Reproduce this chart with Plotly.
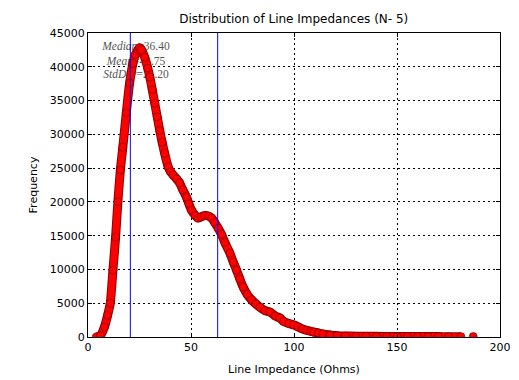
import plotly.graph_objects as go

# Data
impedance = [4, 6, 8, 9.5, 10.8, 12.1, 13.4, 14.5, 15.7, 16.9, 18.6, 20.2, 21.8, 23, 24.2, 25, 26, 27.5, 29, 30,
             31.2, 32.4, 33.6, 34.8, 36, 37.2, 38.9, 40, 41.3, 43, 44.5, 46, 47.8, 49, 50.2, 52, 53.4, 55, 56.7, 58.5,
             60, 61.6, 63.2, 64.8, 66.4, 68.9, 70.5, 72.1, 73.7, 75.3, 77.3, 79.4, 81.5, 83.5, 86, 88.3, 91, 93.2, 95, 97.5,
             99.7, 102, 104, 106, 108, 109.4, 111.8, 114, 117.5, 121, 125, 130, 135, 140, 145, 150, 155, 160, 165, 170,
             175, 181]
frequency = [0, 200, 1500, 3200, 5000, 9900, 14800, 20000, 24700, 28100, 33200, 37600, 40500, 41800, 42500, 42800, 42500, 41400, 39800, 38500,
             36600, 34600, 32600, 30600, 28800, 27200, 25200, 24500, 24000, 23400, 22800, 21800, 20700, 19700, 18800, 18000, 17600, 17800, 18000, 17900,
             17600, 16900, 16100, 15200, 14000, 12400, 11100, 9900, 8600, 7400, 6300, 5500, 4900, 4400, 3900, 3700, 3100, 2800, 2300, 2000,
             1800, 1500, 1200, 1000, 850, 740, 600, 450, 300, 200, 150, 120, 100, 100, 80, 80, 80, 70, 60, 60,
             50, 50]
outlier_x = [187]
outlier_y = [60]

median_val = 36.40
mean_val = 41.75
std_val = 21.20

x_ticks = [0, 50, 100, 150, 200]
y_ticks = list(range(0, 45001, 5000))
y_tick_labels = [str(v) for v in y_ticks]

stat_lines = [
    "<i>Median</i>=36.40",
    "<i>Mean</i>=41.75",
    "<i>StdDev</i>=21.20",
]
stat_y = [42900, 40700, 38800]

fig = go.Figure()

# stats text (drawn below the curve)
fig.add_trace(go.Scatter(
    x=[23.3] * 3, y=stat_y, mode="text", text=stat_lines,
    textfont=dict(family="Liberation Serif", size=11.5, color="#555555"),
    textposition="middle center", hoverinfo="skip", showlegend=False))

# thick band outline + fill
fig.add_trace(go.Scatter(x=impedance, y=frequency, mode="lines",
                         line=dict(color="#8a0000", width=9, shape="spline", smoothing=0.6),
                         showlegend=False, hoverinfo="skip"))
fig.add_trace(go.Scatter(x=impedance, y=frequency, mode="lines+markers",
                         line=dict(color="#ff0000", width=7, shape="spline", smoothing=0.6),
                         marker=dict(color="#ff0000", size=8, line=dict(color="#7a0000", width=0.7)),
                         showlegend=False))
fig.add_trace(go.Scatter(x=outlier_x, y=outlier_y, mode="markers",
                         marker=dict(color="#ff0000", size=8, line=dict(color="#7a0000", width=0.7)),
                         showlegend=False))

# mean +/- std lines
for xv in [mean_val - std_val, mean_val + std_val]:
    fig.add_trace(go.Scatter(x=[xv, xv], y=[0, 45000], mode="lines",
                             line=dict(color="#0000ff", width=1), showlegend=False, hoverinfo="skip"))

axis_common = dict(
    showline=True, linecolor="black", linewidth=1, mirror="ticks",
    ticks="inside", ticklen=4, tickcolor="black",
    showgrid=True, gridcolor="black", gridwidth=1, griddash="2px,3px",
    zeroline=False, automargin=False,
    tickfont=dict(family="DejaVu Sans", size=11, color="black"),
)

fig.update_xaxes(range=[0, 200], tickvals=x_ticks, **axis_common,
                 title=dict(text="Line Impedance (Ohms)", font=dict(family="DejaVu Sans", size=11, color="black"), standoff=12))
fig.update_yaxes(range=[0, 45000], tickvals=y_ticks, ticktext=y_tick_labels, **axis_common,
                 title=dict(text="Frequency", font=dict(family="DejaVu Sans", size=11, color="black"), standoff=9))

fig.update_layout(
    width=519, height=380,
    margin=dict(l=88, r=19, t=33, b=43),
    paper_bgcolor="white", plot_bgcolor="white",
    title=dict(text="Distribution of Line Impedances (N- 5)", x=0.566, xanchor="center", y=0.95, yanchor="middle",
               font=dict(family="DejaVu Sans", size=12, color="black")),
)

fig.write_html("out.html")
